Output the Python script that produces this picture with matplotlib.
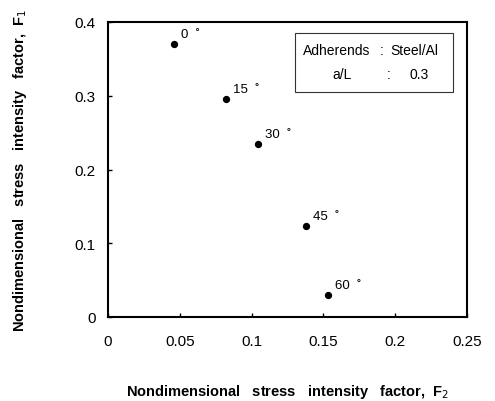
import matplotlib
matplotlib.use("Agg")
import matplotlib.pyplot as plt
from matplotlib.patches import Rectangle

angles = ["0", "15", "30", "45", "60"]
F2 = [0.0462, 0.0822, 0.1042, 0.1379, 0.1530]
F1 = [0.370, 0.295, 0.234, 0.123, 0.030]
xticks = [0, 0.05, 0.1, 0.15, 0.2, 0.25]
xticklabels = ["0", "0.05", "0.1", "0.15", "0.2", "0.25"]
yticks = [0, 0.1, 0.2, 0.3, 0.4]
yticklabels = ["0", "0.1", "0.2", "0.3", "0.4"]

plt.rcParams['font.family'] = ['Liberation Sans', 'DejaVu Sans']

fig = plt.figure(figsize=(4.95, 4.02), dpi=100)
ax = fig.add_axes([108/495, 1-318/402, (467-108)/495, (318-23)/402])

ax.scatter(F2, F1, s=18, color='black', zorder=3)
for a, x, y in zip(angles, F2, F1):
    ax.annotate(a + "  ˚", (x, y), xytext=(5, 3), textcoords='offset points',
                fontsize=9.5, ha='left', va='bottom')

ax.set_xlim(0, 0.25)
ax.set_ylim(0, 0.4)
ax.set_xticks(xticks)
ax.set_xticklabels(xticklabels)
ax.set_yticks(yticks)
ax.set_yticklabels(yticklabels)
ax.tick_params(direction='in', length=3, width=1, labelsize=11, pad=9)
ax.tick_params(axis='x', pad=12)
for s in ax.spines.values():
    s.set_linewidth(1.5)

lab = "Nondimensional   stress   intensity   factor,  F$_{%d}$"
ax.set_xlabel(lab % 2, fontsize=10.5, fontweight='bold', labelpad=25)
ax.set_ylabel(lab % 1, fontsize=10.5, fontweight='bold', labelpad=33)

# legend box
ax.add_patch(Rectangle((0.521, 0.763), 0.44, 0.2, transform=ax.transAxes,
                       facecolor='white', edgecolor='#333333', linewidth=0.8, zorder=4))
kw = dict(transform=ax.transAxes, fontsize=10, va='center', zorder=5)
ax.text(0.543, 0.905, "Adherends", ha='left', **kw)
ax.text(0.762, 0.905, ":", ha='center', **kw)
ax.text(0.786, 0.905, "Steel/Al", ha='left', **kw)
ax.text(0.652, 0.824, "a/L", ha='center', **kw)
ax.text(0.783, 0.824, ":", ha='center', **kw)
ax.text(0.867, 0.824, "0.3", ha='center', **kw)

fig.savefig("out.png", dpi=100)
